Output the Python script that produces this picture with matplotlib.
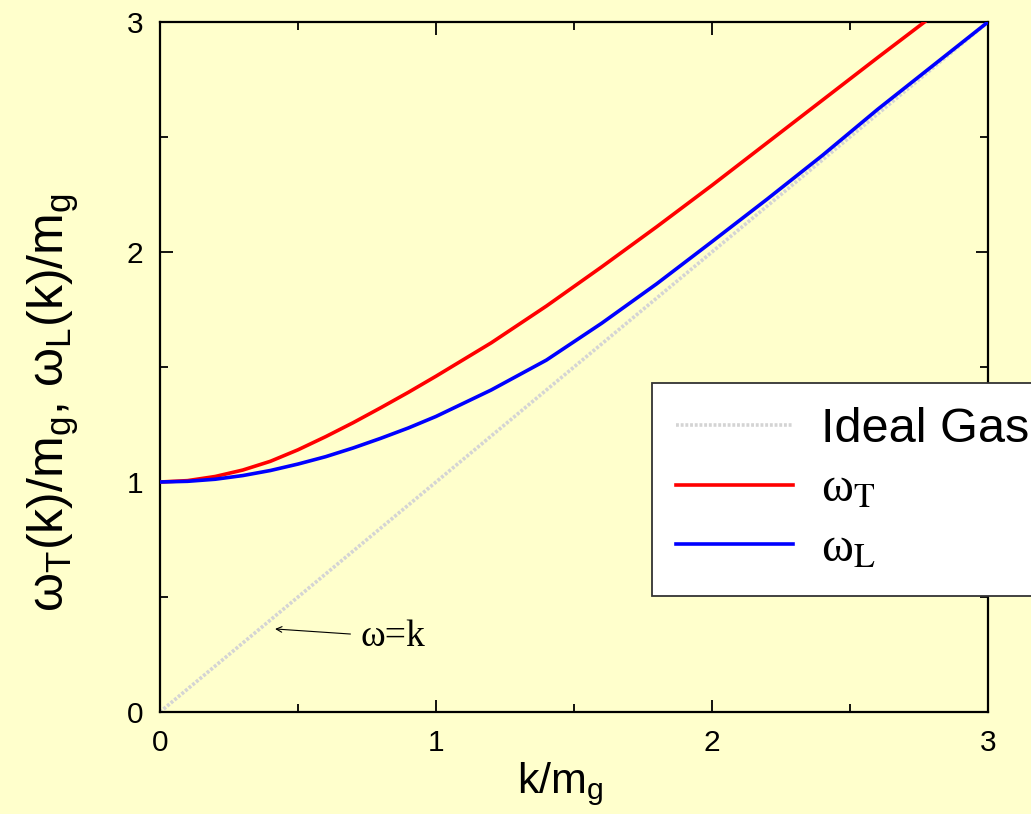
import matplotlib
matplotlib.use("Agg")
import matplotlib.pyplot as plt
from matplotlib.ticker import MultipleLocator

# ---- data ----
k_T = [0.0, 0.1, 0.2, 0.3, 0.4, 0.5, 0.6, 0.7, 0.8, 0.9, 1.0, 1.2, 1.4, 1.6, 1.8, 2.0, 2.2, 2.4, 2.6, 2.77]
omega_T = [1.0, 1.006, 1.024, 1.052, 1.09, 1.14, 1.197, 1.258, 1.323, 1.39, 1.46, 1.605, 1.765, 1.935, 2.11, 2.29, 2.475, 2.66, 2.845, 3.0]
k_L = [0.0, 0.1, 0.2, 0.3, 0.4, 0.5, 0.6, 0.7, 0.8, 0.9, 1.0, 1.2, 1.4, 1.6, 1.8, 2.0, 2.2, 2.4, 2.6, 2.8, 3.0]
omega_L = [1.0, 1.003, 1.012, 1.028, 1.05, 1.078, 1.11, 1.148, 1.19, 1.235, 1.285, 1.40, 1.53, 1.69, 1.862, 2.045, 2.23, 2.42, 2.62, 2.81, 3.0]
k_ideal = [0.0, 3.0]
omega_ideal = [0.0, 3.0]
x_ticks = [0, 1, 2, 3]
y_ticks = [0, 1, 2, 3]

BG = "#FFFFCC"
plt.rcParams["font.family"] = ["Liberation Sans", "DejaVu Sans"]
plt.rcParams["mathtext.fontset"] = "custom"
plt.rcParams["mathtext.rm"] = "Liberation Sans"
plt.rcParams["mathtext.it"] = "Liberation Sans:italic"
plt.rcParams["mathtext.sf"] = "Liberation Sans"

fig = plt.figure(figsize=(10.31, 8.14), dpi=100, facecolor=BG)
ax = fig.add_axes([160/1031, 1-712/814, (988-160)/1031, (712-22)/814])
ax.set_facecolor(BG)

ax.plot(k_ideal, omega_ideal, color="#d4d4d4", lw=2.6, ls=(0, (0.8, 0.5)), label="Ideal Gas", zorder=2)
ax.plot(k_T, omega_T, color="#ff0000", lw=2.6, label="ω$_\\mathrm{T}$", zorder=3)
ax.plot(k_L, omega_L, color="#0000ff", lw=2.6, label="ω$_\\mathrm{L}$", zorder=4)

ax.set_xlim(0, 3)
ax.set_ylim(0, 3)
ax.set_xticks(x_ticks)
ax.set_yticks(y_ticks)
ax.xaxis.set_minor_locator(MultipleLocator(0.5))
ax.yaxis.set_minor_locator(MultipleLocator(0.5))
ax.tick_params(which="both", direction="in", top=True, right=True, width=1.3, color="black")
ax.tick_params(which="major", length=9, labelsize=21.5, pad=12)
ax.tick_params(which="minor", length=6)
for s in ax.spines.values():
    s.set_linewidth(1.6)

ax.set_xlabel("k/m$_\\mathrm{g}$", fontsize=31)
ax.xaxis.set_label_coords(0.483, -0.07)
ax.set_ylabel("ω$_\\mathrm{T}$(k)/m$_\\mathrm{g}$, ω$_\\mathrm{L}$(k)/m$_\\mathrm{g}$", fontsize=36)
ax.yaxis.set_label_coords(-0.095, 0.449)

# annotation
ax.annotate("", xy=(0.417, 0.361), xytext=(0.69, 0.339),
            arrowprops=dict(arrowstyle="->", lw=0.8, color="black", shrinkA=0, shrinkB=0))
ax.text(0.725, 0.328, "ω=k", fontsize=27, family="Liberation Serif", ha="left", va="center")

leg = ax.legend(loc="upper left", bbox_to_anchor=(652/1031, 1-383/814), bbox_transform=fig.transFigure,
                fontsize=35, frameon=True, fancybox=False, framealpha=1, edgecolor="#333333",
                borderpad=0.5, handlelength=2.4, handletextpad=0.58, labelspacing=0.32, borderaxespad=0)
leg.get_frame().set_linewidth(1.3)
for t in leg.get_texts()[1:]:
    t.set_fontfamily("Liberation Serif")
    t.set_math_fontfamily("stix")

fig.savefig("out.png", dpi=100, facecolor=BG)
